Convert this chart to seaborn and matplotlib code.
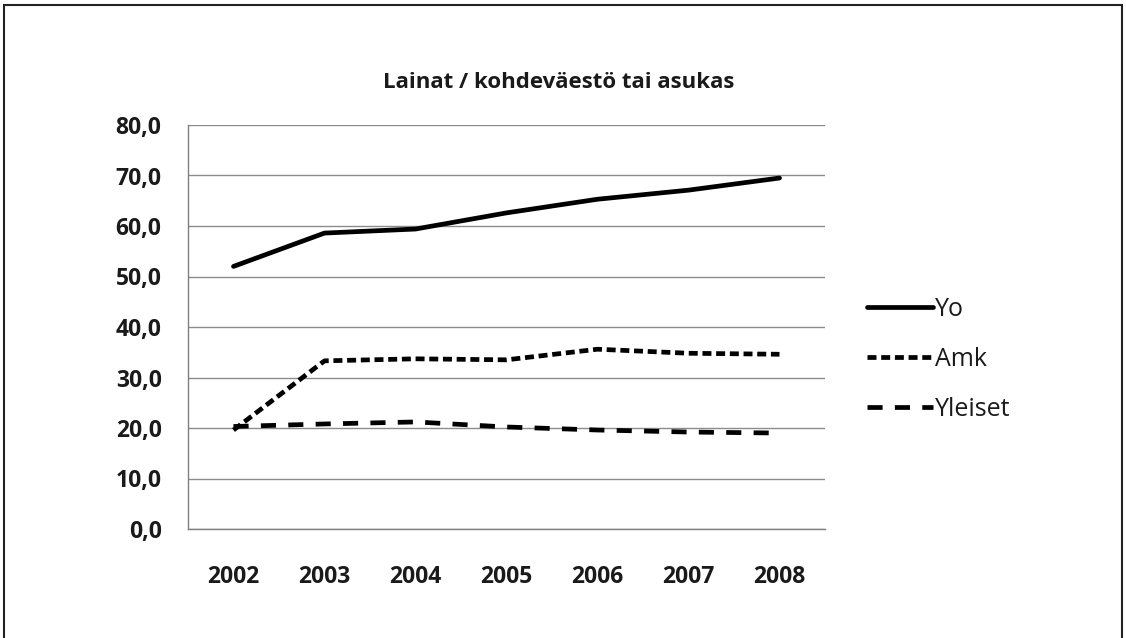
import pandas as pd
import matplotlib.pyplot as plt
import seaborn as sns
from matplotlib.patches import Rectangle
from matplotlib.ticker import FuncFormatter

vuodet = ['2002', '2003', '2004', '2005', '2006', '2007', '2008']
yo = [52.0, 58.6, 59.4, 62.6, 65.3, 67.1, 69.5]
amk = [19.6, 33.3, 33.7, 33.5, 35.6, 34.8, 34.6]
yleiset = [20.3, 20.8, 21.2, 20.2, 19.6, 19.2, 19.0]
sarjat = ['Yo', 'Amk', 'Yleiset']

df = pd.DataFrame({
    'vuosi': vuodet * 3,
    'arvo': yo + amk + yleiset,
    'sarja': [s for s in sarjat for _ in vuodet],
})

sns.set_style('white')
plt.rcParams['font.family'] = ['Open Sans', 'DejaVu Sans']

fig = plt.figure(figsize=(11.26, 6.38), dpi=100)
ax = fig.add_axes([188 / 1126, 1 - 529 / 638, 637 / 1126, 404 / 638])

sns.lineplot(data=df, x='vuosi', y='arvo', style='sarja', ax=ax,
             color='black', linewidth=3.4, sort=False,
             dashes={'Yo': '', 'Amk': (1.9, 1.0), 'Yleiset': (3.2, 2.6)})

ax.set_xlim(-0.5, 6.5)
ax.set_ylim(0, 80)
ax.set_yticks(range(0, 81, 10))
ax.yaxis.set_major_formatter(FuncFormatter(lambda v, p: f'{v:.1f}'.replace('.', ',')))
ax.set_xticks(range(7))
ax.set_xticklabels(vuodet)
ax.set_xticks([i - 0.5 for i in range(8)], minor=True)
ax.tick_params(axis='x', which='major', length=0, pad=26, labelsize=16.5)
ax.tick_params(axis='x', which='minor', length=7, color='#808080', width=1, direction='out')
ax.tick_params(axis='y', length=8, color='#808080', width=1, direction='out', pad=11, labelsize=16.5)
for lab in ax.get_xticklabels() + ax.get_yticklabels():
    lab.set_fontweight('bold')
    lab.set_color('#1a1a1a')

ax.grid(axis='y', color='#8c8c8c', linewidth=1)
ax.set_axisbelow(True)
for s in ['top', 'right']:
    ax.spines[s].set_visible(False)
for s in ['left', 'bottom']:
    ax.spines[s].set_color('#808080')
    ax.spines[s].set_linewidth(1)
ax.set_xlabel('')
ax.set_ylabel('')

leg = ax.legend(loc='upper left', bbox_to_anchor=(844 / 1126, 1 - 274 / 638),
                bbox_transform=fig.transFigure, frameon=False,
                prop={'size': 18, 'weight': 'medium'},
                handlelength=2.65, handletextpad=0.1, labelspacing=1.0)
for h in leg.get_lines():
    h.set_linewidth(3.4)
for t in leg.get_texts():
    t.set_color('#1a1a1a')

fig.text(559 / 1126, 1 - 82 / 638, 'Lainat / kohdeväestö tai asukas',
         ha='center', va='center', fontsize=16, fontweight='bold', color='#1a1a1a')

fig.patches.append(Rectangle((4 / 1126, -0.05), 1118 / 1126, 1 - 5 / 638 + 0.05,
                             transform=fig.transFigure, fill=False,
                             edgecolor='#222222', linewidth=1.5))

fig.savefig('out.png', dpi=100)
